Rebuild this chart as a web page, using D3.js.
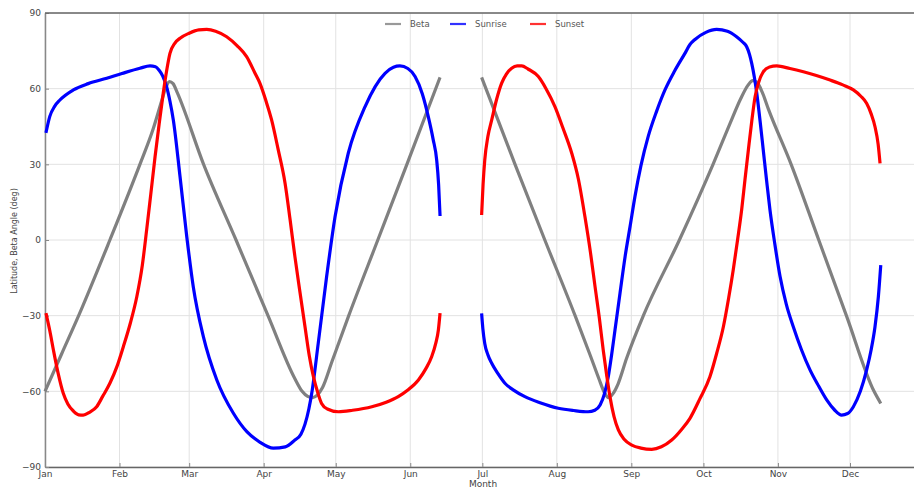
<!DOCTYPE html>
<html>
<head>
<meta charset="utf-8">
<script src="https://cdn.jsdelivr.net/npm/d3@7"></script>
<style>
  html, body { margin: 0; padding: 0; background: #fff; }
  svg { display: block; font-family: "DejaVu Sans", sans-serif; }
</style>
</head>
<body>
<svg id="chart" width="914" height="488"></svg>
<script>
// ---- data: [day of year (from Jan 1 2016), degrees] ----
const betaH1 = [[0,-60],[7,-45],[14,-30],[27,0],[39.5,30],[45,44],[48.5,55],[50.3,60.5],[51.8,62.8],[53.3,62],[55,58.5],[66,30],[79.5,0],[92.8,-30],[104,-55],[107,-60],[109.3,-62],[111.3,-62.5],[113.3,-61.5],[115.5,-58.5],[119.5,-48],[126.4,-30],[138.5,0],[150.6,30],[164.4,64.5]];
const betaH2 = [[181.7,64.5],[195.6,30],[208,0],[220.6,-30],[227,-46],[230.5,-55],[232.8,-60.5],[234.5,-62.5],[236.3,-61],[238.5,-57],[242,-47],[249,-30],[264,0],[278,30],[285,46],[289.5,56],[292.5,61.3],[294.5,63.2],[296.3,62.5],[298.5,58.5],[301,52],[310.5,30],[322,0],[333.5,-30],[345,-60],[347.8,-64.8]];

const sunriseH1 = [[0.4,42.5],[2,49],[4,53],[6.2,55.5],[11.8,59.5],[18,62],[25.7,64.1],[32,66],[39.5,68.1],[43.7,69],[46,68.7],[47.5,67.3],[49,65],[50.6,60.8],[52,55],[53.4,47.6],[56.2,25.1],[59,1.3],[61.7,-18.5],[65.9,-38.3],[71.5,-55.5],[78.4,-68.7],[84,-76],[89.5,-80.2],[95,-82.5],[100,-82],[104,-79.3],[106.5,-77],[108.2,-73],[109.8,-67],[111,-60.8],[113.7,-41],[117.2,-14.5],[120.7,9.2],[126.2,34.4],[133.2,52.9],[141.5,66.1],[145,68.5],[147.7,69],[151,68],[154,64.8],[157,58],[159.5,48.9],[161.5,40],[163,31.7],[163.8,22],[164.4,9.5]];
const sunriseH2 = [[181.7,-29.1],[182.2,-35],[183,-41],[184.3,-45.5],[185.9,-48.9],[188.5,-53],[191.4,-56.8],[195,-59.5],[199.7,-62.1],[206,-64.5],[213.6,-66.7],[220,-67.6],[226,-68.1],[228.8,-67.5],[231,-65.4],[232.8,-61],[234.4,-54.2],[235.8,-45.5],[237.2,-35.7],[239.3,-21],[241.4,-6.6],[243.5,5.5],[245.5,17.2],[248,29.5],[251,41],[254.5,51],[258,59.5],[262,67],[266.3,74],[268.4,77.5],[270.5,79.5],[275,82.3],[279.5,83.5],[284,82.8],[287.8,80.6],[290.3,78.5],[292,76.6],[293.2,73.5],[294.1,70],[295.2,64.5],[296.2,58.2],[297.6,47],[298.9,35.7],[300.3,23.5],[301.7,11.9],[303.7,-1.5],[305.9,-14.5],[308.5,-25.5],[311.4,-34.4],[314.8,-43.5],[318.4,-51.6],[322,-58],[325.3,-63.4],[328.5,-67.3],[331.5,-69.4],[334,-68.8],[336.4,-66.1],[339.3,-60],[341.9,-51.6],[343.8,-43.5],[345.4,-34.4],[346.8,-22.5],[347.8,-10]];

const sunsetH1 = [[0.4,-29],[2,-36],[3.5,-43.6],[5.5,-53],[7.6,-60.8],[9.5,-65],[11.8,-67.8],[14,-69.3],[15.9,-69.4],[18.5,-68.3],[21.5,-66.1],[24,-62],[27,-56.8],[30,-50],[32.6,-42.3],[35.5,-33],[38.2,-22.5],[40.5,-10],[42.3,4],[44,18],[45.8,33],[47.5,46],[49.2,58.2],[50.6,67],[52,74],[54,78],[56.2,80],[60,82],[64,83.3],[67.3,83.5],[71,82.8],[75.6,80.6],[80,77],[83.9,72.7],[87.4,66.1],[89.5,62],[92,55],[94.3,47.6],[97,36],[99.9,22.5],[102,8],[104,-6.6],[106,-20],[108.2,-34.4],[110,-46],[111.7,-54.2],[113.5,-60.5],[115.1,-64.8],[117.5,-67],[122.1,-68.1],[128,-67.5],[136,-66.1],[142,-64.3],[147,-62.1],[151,-59.5],[155.4,-55.5],[158.5,-51],[160.9,-46.3],[162.6,-41],[163.7,-35.7],[164.4,-29]];
const sunsetH2 = [[181.7,9.9],[182.3,22],[183,31.7],[184.3,41],[185.9,47.6],[188,56],[190,62.1],[192,65.8],[194.2,68.1],[196.5,69],[198.4,69],[201,67.8],[205.3,64.8],[208.5,60],[212.2,52.9],[215.5,44.5],[219.2,34.4],[222,24],[224.7,9.2],[227,-5],[228.9,-18.5],[230.7,-31],[232.3,-43.6],[233.8,-54],[235.1,-62.1],[236.8,-70],[238.6,-75.3],[241,-79],[244.2,-81.3],[248,-82.5],[252.5,-83],[256.5,-82],[260.8,-79.3],[265,-75],[268.4,-70.7],[272.5,-63],[276.7,-54.2],[279.5,-45],[282.3,-34.4],[284.5,-23],[286.4,-11.9],[288.2,0],[289.9,11.9],[291.3,24],[292.7,35.7],[294.1,47],[295.5,56.8],[297,62.5],[298.9,66.7],[301.5,68.6],[304.5,69],[310,68],[315.6,66.7],[321,65.2],[326.7,63.4],[332,61.5],[336.4,59.5],[339.5,57],[341.9,54.2],[343.8,50],[345.4,44.9],[346.7,38],[347.5,30.4]];

const yTicks = [-90, -60, -30, 0, 30, 60, 90];
const seriesNames = ["Beta", "Sunrise", "Sunset"];
const seriesColors = ["#808080", "#0000ff", "#ff0000"];
const yLabel = "Latitude, Beta Angle (deg)";
const xLabel = "Month";

// ---- chart ----
const svg = d3.select("#chart");
const W = 914, H = 488;
const m = { left: 45, top: 13, bottom: 467 };
const start = new Date(2016, 0, 1), end = new Date(2017, 0, 1);
const x = d3.scaleTime().domain([start, end]).range([m.left, 924.5]);
const y = d3.scaleLinear().domain([-90, 90]).range([m.bottom, m.top]);
const toDate = d => new Date(start.getTime() + d * 864e5);

svg.append("rect").attr("width", W).attr("height", H).attr("fill", "#fff");

// grid
const months = d3.timeMonth.range(start, end);
svg.append("g").selectAll("line").data(months).join("line")
  .attr("x1", d => x(d)).attr("x2", d => x(d))
  .attr("y1", m.top).attr("y2", m.bottom)
  .attr("stroke", "#e2e2e2").attr("stroke-width", 1);
svg.append("g").selectAll("line").data(yTicks).join("line")
  .attr("x1", m.left).attr("x2", W)
  .attr("y1", d => y(d)).attr("y2", d => y(d))
  .attr("stroke", "#e2e2e2").attr("stroke-width", 1);

// axes
const xAxis = d3.axisBottom(x).tickValues(months).tickFormat(d3.timeFormat("%b"))
  .tickSizeInner(-4).tickSizeOuter(0).tickPadding(4);
const gx = svg.append("g").attr("transform", `translate(0,${m.bottom})`).call(xAxis);
gx.select(".domain").attr("stroke", "#666").attr("stroke-width", 1.5);
gx.selectAll(".tick line").attr("stroke", "#888");
gx.selectAll("text").attr("font-size", 9).attr("fill", "#444")
  .attr("font-family", "DejaVu Sans, sans-serif");

const yAxis = d3.axisLeft(y).tickValues(yTicks).tickFormat(d => d < 0 ? "\u2212" + Math.abs(d) : d)
  .tickSizeInner(-4).tickSizeOuter(0).tickPadding(4);
const gy = svg.append("g").attr("transform", `translate(${m.left},0)`).call(yAxis);
gy.select(".domain").attr("stroke", "#888").attr("stroke-width", 1.5);
gy.selectAll(".tick line").attr("stroke", "#888");
gy.selectAll("text").attr("font-size", 9).attr("fill", "#444")
  .attr("font-family", "DejaVu Sans, sans-serif");

// top frame
svg.append("line").attr("x1", m.left).attr("x2", W).attr("y1", m.top).attr("y2", m.top)
  .attr("stroke", "#666").attr("stroke-width", 1.5);

// lines
const line = d3.line().x(d => x(toDate(d[0]))).y(d => y(d[1])).curve(d3.curveMonotoneX);
const segs = [
  [betaH1, 0], [betaH2, 0],
  [sunriseH1, 1], [sunriseH2, 1],
  [sunsetH1, 2], [sunsetH2, 2]
];
svg.append("g").selectAll("path").data(segs).join("path")
  .attr("d", d => line(d[0]))
  .attr("fill", "none")
  .attr("stroke", d => seriesColors[d[1]])
  .attr("stroke-width", 3.2)
  .attr("stroke-linejoin", "round")
  .attr("stroke-linecap", "butt");

// labels
svg.append("text").attr("x", 483).attr("y", 487)
  .attr("text-anchor", "middle").attr("font-size", 9).attr("fill", "#444").text(xLabel);
svg.append("text").attr("transform", "translate(17,241) rotate(-90)")
  .attr("text-anchor", "middle").attr("font-size", 8).attr("fill", "#444").text(yLabel);

// legend
const legX = [385, 450, 530];
const lg = svg.append("g");
seriesNames.forEach((n, i) => {
  lg.append("line").attr("x1", legX[i]).attr("x2", legX[i] + 16).attr("y1", 24).attr("y2", 24)
    .attr("stroke", seriesColors[i]).attr("stroke-width", 2.2).attr("opacity", 0.8);
  lg.append("text").attr("x", legX[i] + 25).attr("y", 27).attr("font-size", 8.5)
    .attr("fill", "#555").text(n);
});
</script>
</body>
</html>
